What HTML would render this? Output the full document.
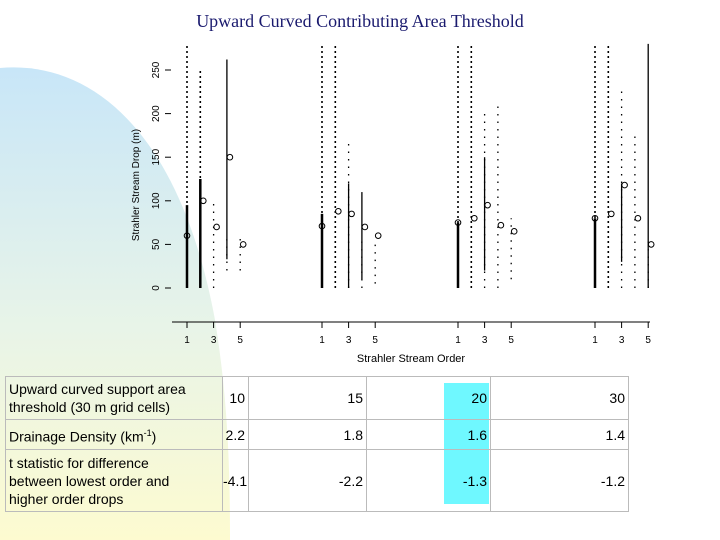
<!DOCTYPE html>
<html><head><meta charset="utf-8"><style>
html,body{margin:0;padding:0;background:#fff}
#wrap{position:relative;width:720px;height:540px;overflow:hidden;font-family:"Liberation Sans",sans-serif}
#bg{position:absolute;left:0;top:0}
h1{position:absolute;left:0;top:11px;width:720px;text-align:center;margin:0;font:normal 18px "Liberation Serif",serif;color:#1a1a6e}
table{position:absolute;left:5px;top:376px;border-collapse:collapse;table-layout:fixed;width:623px;font-size:14px;color:#000}
td{border:1px solid #bbb;padding:0 3px;line-height:18px;white-space:nowrap}
td.v{text-align:right;padding:0 3px 0 0}
</style></head><body>
<div id="wrap">
<svg id="bg" width="720" height="540">
<defs><linearGradient id="g" x1="0" y1="0" x2="0" y2="1">
<stop offset="0" stop-color="#c8e6f8"/><stop offset="0.55" stop-color="#e8f4e8"/><stop offset="1" stop-color="#fdfbd0"/></linearGradient></defs>
<path d="M0,68 C90,60 180,130 215,320 C228,400 230,470 230,540 L0,540 Z" fill="url(#g)"/>
</svg>
<h1>Upward Curved Contributing Area Threshold</h1>
<div style="position:absolute;left:444px;top:383px;width:45px;height:121px;background:#6ff8ff"></div>
<svg id="chart" width="720" height="370" style="position:absolute;left:0;top:0"></svg>
<table>
<colgroup><col style="width:217px"><col style="width:26px"><col style="width:118px"><col style="width:124px"><col style="width:138px"></colgroup>
<tr style="height:43px"><td>Upward curved support area<br>threshold (30 m grid cells)</td><td class="v">10</td><td class="v">15</td><td class="v">20</td><td class="v">30</td></tr>
<tr style="height:30px"><td>Drainage Density (km<sup style="font-size:9px">-1</sup>)</td><td class="v">2.2</td><td class="v">1.8</td><td class="v">1.6</td><td class="v">1.4</td></tr>
<tr style="height:62px"><td>t statistic for difference<br>between lowest order and<br>higher order drops</td><td class="v">-4.1</td><td class="v">-2.2</td><td class="v">-1.3</td><td class="v">-1.2</td></tr>
</table>
</div>
<script>
const thresholds=[10,15,20,30];
const orders=[1,2,3,4,5];
const yTicks=[0,50,100,150,200,250];
const xTickLabels=[1,3,5];
// per panel, per order: ranges and medians (null = none)
const solidLo=[[0,0,null,33,null],[0,null,0,10,null],[0,null,20,null,null],[0,null,30,null,0]];
const solidHi=[[95,125,null,262,null],[85,null,120,110,null],[75,null,150,null,null],[80,null,120,null,280]];
const dotLo=[[0,0,0,20,20],[0,0,0,0,5],[0,0,0,0,10],[0,0,0,0,0]];
const dotHi=[[280,250,100,60,60],[280,280,170,60,55],[280,280,200,210,80],[280,280,230,180,60]];
const medians=[[60,100,70,150,50],[71,88,85,70,60],[75,80,95,72,65],[80,85,118,80,50]];
const NS='http://www.w3.org/2000/svg';
const svg=document.getElementById('chart');
const yS=v=>288-v*0.872;
const panelX=[187,322,458,595];
const xS=(p,o)=>panelX[p]+(o-1)*13.3;
function mk(t,a){const e=document.createElementNS(NS,t);for(const k in a)e.setAttribute(k,a[k]);svg.appendChild(e);return e;}
yTicks.forEach(v=>{const t=mk('line',{x1:165,x2:171,y1:yS(v),y2:yS(v),stroke:'#000'});


const l=mk('text',{x:159,y:yS(v),'font-size':10,'text-anchor':'middle',transform:`rotate(-90 159 ${yS(v)})`});
l.textContent=v;

});
const yt=mk('text',{x:139,y:185,'font-size':10,'text-anchor':'middle',transform:'rotate(-90 139 185)'});
yt.textContent='Strahler Stream Drop (m)';


const xa=mk('line',{x1:172,x2:650,y1:322,y2:322,stroke:'#000'});


thresholds.forEach((th,p)=>{
 xTickLabels.forEach(o=>{const x=xS(p,o);
  const t=mk('line',{x1:x,x2:x,y1:322,y2:328,stroke:'#000'});
  
  
  const l=mk('text',{x:x,y:343,'font-size':10,'text-anchor':'middle'});l.textContent=o;
  
  });
 orders.forEach((o,i)=>{const x=xS(p,o);
  if(dotHi[p][i]!=null){const d=mk('line',{x1:x,x2:x,y1:yS(dotLo[p][i]),y2:yS(dotHi[p][i]),stroke:'#000','stroke-width':i<2?1.6:1.3,'stroke-dasharray':i<2?'2 3':'1.5 6'});
   
   }
  if(solidLo[p][i]!=null){const s=mk('line',{x1:x,x2:x,y1:yS(solidLo[p][i]),y2:yS(solidHi[p][i]),stroke:'#000','stroke-width':i<2?2.5:1.3});
   
   }
  const c=mk('circle',{cx:x+(i===0?0:3),cy:yS(medians[p][i]),r:2.8,fill:'none',stroke:'#000','stroke-width':1});
  
  
 });
});
const xt=mk('text',{x:411,y:362,'font-size':11,'text-anchor':'middle'});
xt.textContent='Strahler Stream Order';


</script>
</body></html>
